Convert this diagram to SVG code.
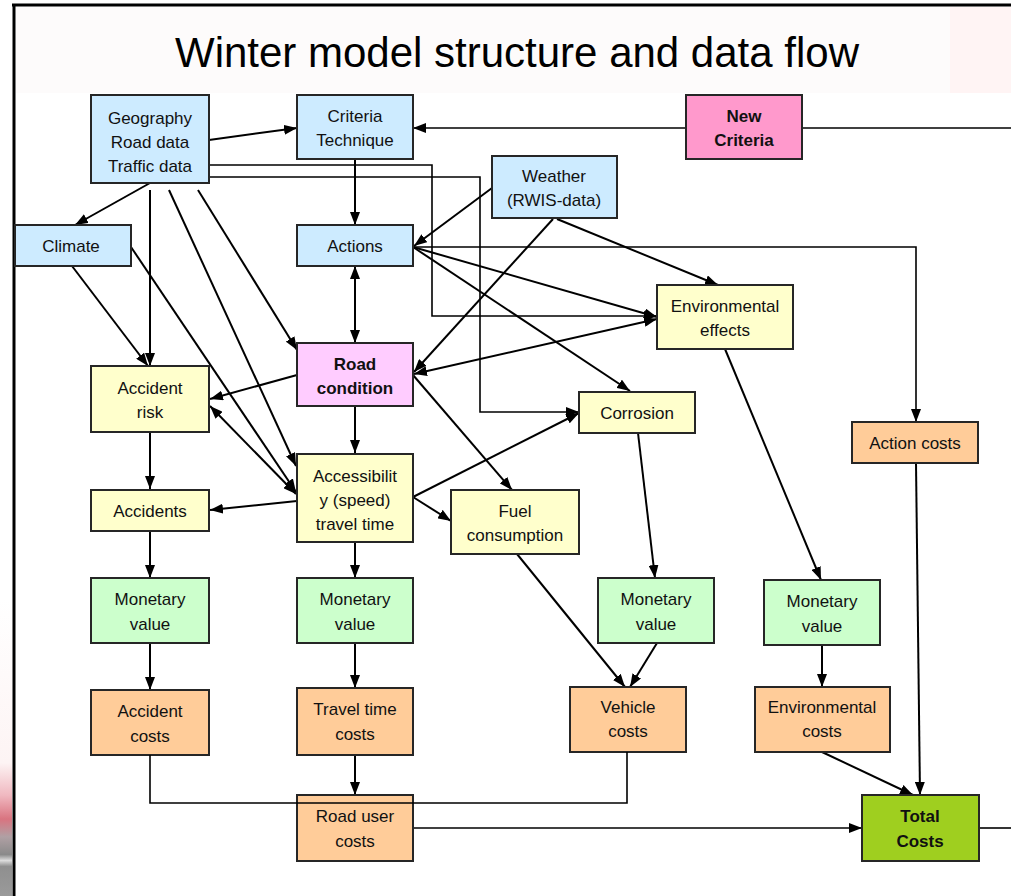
<svg xmlns="http://www.w3.org/2000/svg" width="1011" height="896" viewBox="0 0 1011 896">
  <style>
    .box { stroke: #262626; stroke-width: 2; }
    .blue { fill: #cdebff; }
    .yellow { fill: #ffffcc; }
    .green { fill: #ccffcc; }
    .orange { fill: #ffcc99; }
    .pink { fill: #ff99cc; }
    .lilac { fill: #ffccff; }
    .lime { fill: #9fcf1f; }
    .lbl { font-family: "Liberation Sans", Arial, sans-serif; font-size: 17px; fill: #111; text-anchor: middle; }
    .b { font-weight: bold; }
    .title { font-family: "Liberation Sans", Arial, sans-serif; font-size: 42px; fill: #000; text-anchor: middle; }
    .ln { fill: none; stroke: #000; stroke-width: 2; }
    .thin { fill: none; stroke: #000; stroke-width: 1.6; }
  </style>
  <defs>
    <marker id="ah" viewBox="0 0 13 10" refX="13" refY="5" markerWidth="13" markerHeight="10" orient="auto-start-reverse" markerUnits="userSpaceOnUse">
      <path d="M0,0 L13,5 L0,10 z" fill="#000"/>
    </marker>
    <linearGradient id="edge" x1="0" y1="0" x2="0" y2="1">
      <stop offset="0" stop-color="#ffffff"/>
      <stop offset="0.55" stop-color="#fdf4f4"/>
      <stop offset="0.66" stop-color="#f0b8c0"/>
      <stop offset="0.74" stop-color="#d97480"/>
      <stop offset="0.80" stop-color="#b0a0a4"/>
      <stop offset="0.86" stop-color="#8a8a8a"/>
      <stop offset="0.88" stop-color="#dcdcdc"/>
      <stop offset="0.90" stop-color="#8f8f8f"/>
      <stop offset="1" stop-color="#9a9a9a"/>
    </linearGradient>
  </defs>

  <!-- page -->
  <rect x="0" y="0" width="1011" height="896" fill="#ffffff"/>
  <rect x="0" y="600" width="12" height="296" fill="url(#edge)"/>
  <rect x="16" y="7" width="934" height="86" fill="#fdfbfb"/>
  <rect x="950" y="7" width="61" height="86" fill="#fff4f4"/>
  <line x1="12" y1="5" x2="1011" y2="5" stroke="#000" stroke-width="3"/>
  <line x1="14" y1="4" x2="14" y2="896" stroke="#000" stroke-width="3"/>

  <text class="title" x="517" y="67">Winter model structure and data flow</text>

  <!-- connectors -->
  <g id="connectors">
    <path class="ln" d="M209,140 L297,128" marker-end="url(#ah)"/>
    <path class="thin" d="M686,128 L413,128" marker-end="url(#ah)"/>
    <path class="thin" d="M802,128 L1011,128"/>
    <path class="thin" d="M209,165 H432 V316 H657" marker-end="url(#ah)"/>
    <path class="thin" d="M209,177 H480 V412 H579" marker-end="url(#ah)"/>
    <path class="ln" d="M150,183 L75,225" marker-end="url(#ah)"/>
    <path class="ln" d="M150,190 V366" marker-end="url(#ah)"/>
    <path class="ln" d="M72,266 L148,366" marker-end="url(#ah)"/>
    <path class="ln" d="M169,190 L296,466" marker-end="url(#ah)"/>
    <path class="ln" d="M198,190 L297,350" marker-end="url(#ah)"/>
    <path class="ln" d="M131,247 L296,492" marker-end="url(#ah)"/>
    <path class="ln" d="M355,159 V225" marker-end="url(#ah)"/>
    <path class="ln" d="M355,266 V343" marker-start="url(#ah)" marker-end="url(#ah)"/>
    <path class="ln" d="M492,188 L414,246" marker-end="url(#ah)"/>
    <path class="thin" d="M413,247 H916 V422" marker-end="url(#ah)"/>
    <path class="ln" d="M413,247 L657,317" marker-end="url(#ah)"/>
    <path class="ln" d="M413,247 L630,391" marker-end="url(#ah)"/>
    <path class="ln" d="M553,219 L414,372" marker-end="url(#ah)"/>
    <path class="ln" d="M557,219 L718,285" marker-end="url(#ah)"/>
    <path class="ln" d="M414,374 L657,319" marker-start="url(#ah)" marker-end="url(#ah)"/>
    <path class="ln" d="M297,375 L210,399" marker-end="url(#ah)"/>
    <path class="ln" d="M355,405 V453" marker-end="url(#ah)"/>
    <path class="ln" d="M413,375 L512,490" marker-end="url(#ah)"/>
    <path class="ln" d="M210,406 L296,494" marker-start="url(#ah)" marker-end="url(#ah)"/>
    <path class="ln" d="M150,432 V489" marker-end="url(#ah)"/>
    <path class="ln" d="M297,501 L210,510" marker-end="url(#ah)"/>
    <path class="ln" d="M413,497 L579,413" marker-end="url(#ah)"/>
    <path class="ln" d="M413,497 L451,521" marker-end="url(#ah)"/>
    <path class="ln" d="M150,531 V578" marker-end="url(#ah)"/>
    <path class="ln" d="M355,542 V578" marker-end="url(#ah)"/>
    <path class="ln" d="M638,433 L655,578" marker-end="url(#ah)"/>
    <path class="ln" d="M725,349 L821,580" marker-end="url(#ah)"/>
    <path class="ln" d="M916,463 L920,795" marker-end="url(#ah)"/>
    <path class="ln" d="M517,554 L625,687" marker-end="url(#ah)"/>
    <path class="ln" d="M657,643 L630,687" marker-end="url(#ah)"/>
    <path class="ln" d="M150,643 V690" marker-end="url(#ah)"/>
    <path class="ln" d="M355,643 V688" marker-end="url(#ah)"/>
    <path class="ln" d="M822,645 V687" marker-end="url(#ah)"/>
    <path class="ln" d="M355,755 V795" marker-end="url(#ah)"/>
    <path class="ln" d="M822,752 L913,795" marker-end="url(#ah)"/>
    <path class="thin" d="M413,828 H862" marker-end="url(#ah)"/>
    <path class="thin" d="M979,828 H1011"/>
  </g>

  <!-- nodes -->
  <g id="geography">
    <rect class="box blue" x="91" y="95" width="118" height="88"/>
    <text class="lbl" x="150" y="124">Geography<tspan x="150" dy="24">Road data</tspan><tspan x="150" dy="24">Traffic data</tspan></text>
  </g>
  <g id="criteria-technique">
    <rect class="box blue" x="297" y="95" width="116" height="64"/>
    <text class="lbl" x="355" y="122">Criteria<tspan x="355" dy="24">Technique</tspan></text>
  </g>
  <g id="new-criteria">
    <rect class="box pink" x="686" y="95" width="116" height="64"/>
    <text class="lbl b" x="744" y="122">New<tspan x="744" dy="24">Criteria</tspan></text>
  </g>
  <g id="weather">
    <rect class="box blue" x="492" y="156" width="125" height="62"/>
    <text class="lbl" x="554" y="182">Weather<tspan x="554" dy="24">(RWIS-data)</tspan></text>
  </g>
  <g id="climate">
    <rect class="box blue" x="15" y="225" width="116" height="41"/>
    <text class="lbl" x="71" y="252">Climate</text>
  </g>
  <g id="actions">
    <rect class="box blue" x="297" y="225" width="116" height="41"/>
    <text class="lbl" x="355" y="252">Actions</text>
  </g>
  <g id="environmental-effects">
    <rect class="box yellow" x="657" y="285" width="136" height="64"/>
    <text class="lbl" x="725" y="312">Environmental<tspan x="725" dy="24">effects</tspan></text>
  </g>
  <g id="road-condition">
    <rect class="box lilac" x="297" y="343" width="116" height="63"/>
    <text class="lbl b" x="355" y="370">Road<tspan x="355" dy="24">condition</tspan></text>
  </g>
  <g id="accident-risk">
    <rect class="box yellow" x="91" y="366" width="118" height="66"/>
    <text class="lbl" x="150" y="394">Accident<tspan x="150" dy="24">risk</tspan></text>
  </g>
  <g id="corrosion">
    <rect class="box yellow" x="579" y="392" width="116" height="41"/>
    <text class="lbl" x="637" y="419">Corrosion</text>
  </g>
  <g id="action-costs">
    <rect class="box orange" x="852" y="422" width="126" height="41"/>
    <text class="lbl" x="915" y="449">Action costs</text>
  </g>
  <g id="accessibility">
    <rect class="box yellow" x="297" y="454" width="116" height="88"/>
    <text class="lbl" x="355" y="482">Accessibilit<tspan x="355" dy="24">y (speed)</tspan><tspan x="355" dy="24">travel time</tspan></text>
  </g>
  <g id="accidents">
    <rect class="box yellow" x="91" y="490" width="118" height="41"/>
    <text class="lbl" x="150" y="517">Accidents</text>
  </g>
  <g id="fuel-consumption">
    <rect class="box yellow" x="451" y="490" width="128" height="64"/>
    <text class="lbl" x="515" y="517">Fuel<tspan x="515" dy="24">consumption</tspan></text>
  </g>
  <g id="monetary-accidents">
    <rect class="box green" x="91" y="578" width="118" height="65"/>
    <text class="lbl" x="150" y="605">Monetary<tspan x="150" dy="25">value</tspan></text>
  </g>
  <g id="monetary-travel">
    <rect class="box green" x="297" y="578" width="116" height="65"/>
    <text class="lbl" x="355" y="605">Monetary<tspan x="355" dy="25">value</tspan></text>
  </g>
  <g id="monetary-corrosion">
    <rect class="box green" x="598" y="578" width="116" height="65"/>
    <text class="lbl" x="656" y="605">Monetary<tspan x="656" dy="25">value</tspan></text>
  </g>
  <g id="monetary-environment">
    <rect class="box green" x="764" y="580" width="116" height="65"/>
    <text class="lbl" x="822" y="607">Monetary<tspan x="822" dy="25">value</tspan></text>
  </g>
  <g id="accident-costs">
    <rect class="box orange" x="91" y="690" width="118" height="65"/>
    <text class="lbl" x="150" y="717">Accident<tspan x="150" dy="25">costs</tspan></text>
  </g>
  <g id="travel-time-costs">
    <rect class="box orange" x="297" y="688" width="116" height="67"/>
    <text class="lbl" x="355" y="715">Travel time<tspan x="355" dy="25">costs</tspan></text>
  </g>
  <g id="vehicle-costs">
    <rect class="box orange" x="570" y="687" width="116" height="65"/>
    <text class="lbl" x="628" y="713">Vehicle<tspan x="628" dy="24">costs</tspan></text>
  </g>
  <g id="environmental-costs">
    <rect class="box orange" x="755" y="687" width="135" height="65"/>
    <text class="lbl" x="822" y="713">Environmental<tspan x="822" dy="24">costs</tspan></text>
  </g>
  <g id="road-user-costs">
    <rect class="box orange" x="297" y="795" width="116" height="66"/>
    <text class="lbl" x="355" y="822">Road user<tspan x="355" dy="25">costs</tspan></text>
  </g>
  <g id="total-costs">
    <rect class="box lime" x="862" y="795" width="117" height="66"/>
    <text class="lbl b" x="920" y="822">Total<tspan x="920" dy="25">Costs</tspan></text>
  </g>

  <!-- cost collector line runs across the road user costs box -->
  <path class="thin" d="M150,755 V803 H627 V752"/>
</svg>
